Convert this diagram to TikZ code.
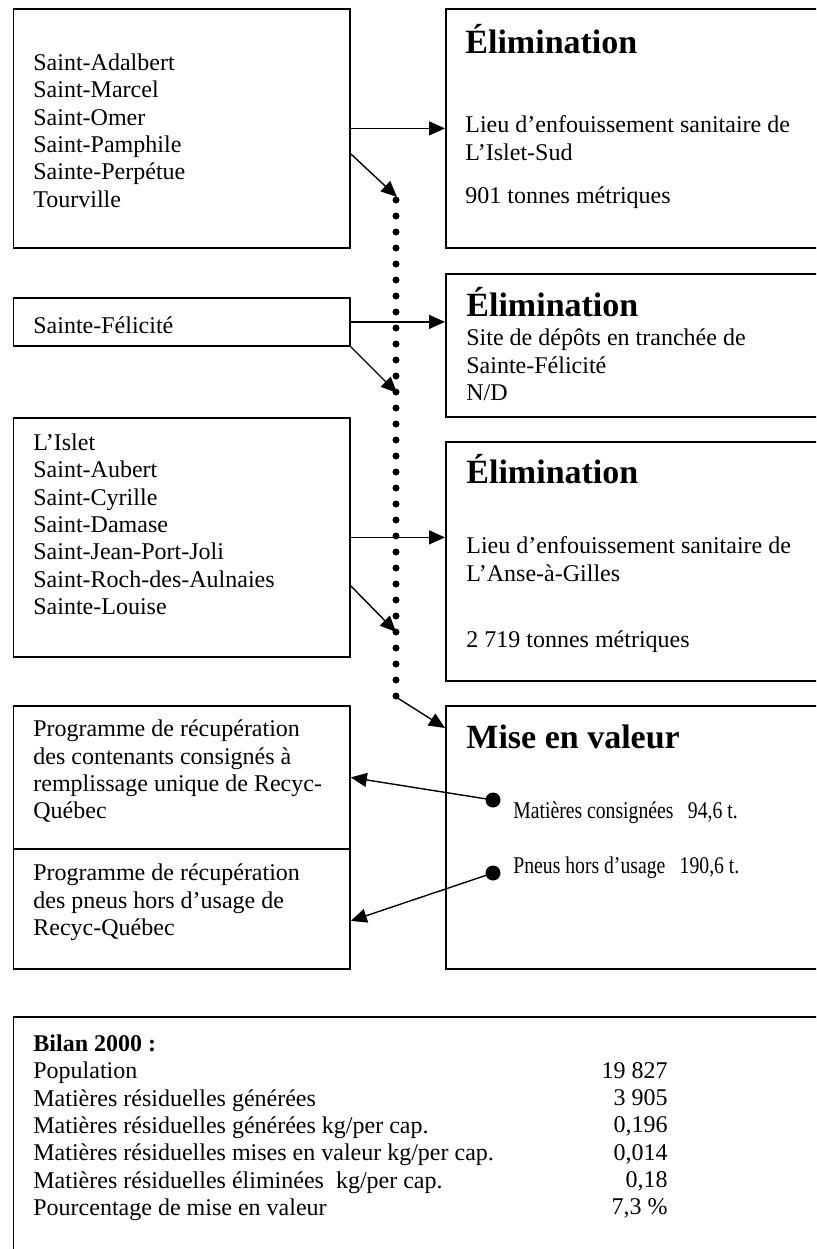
\documentclass[tikz,border=0pt]{standalone}
\usepackage{fontspec}
\setmainfont{Liberation Serif}
\newfontfamily\narrowserif[FakeStretch=0.82]{Liberation Serif}
\usetikzlibrary{arrows.meta}

\begin{document}
\begin{tikzpicture}[x=0.5pt, y=-0.5pt, font=\fontsize{12}{13.65}\selectfont,
  box/.style={draw, line width=0.9pt, inner sep=0pt, anchor=north west},
  txt/.style={inner sep=0pt, anchor=north west, align=left},
  lbl/.style={inner sep=0pt, anchor=base west},
  tight/.style={lbl, font=\fontsize{12}{13.65}\narrowserif},
  head/.style={inner sep=0pt, anchor=base west, font=\fontsize{17}{20}\selectfont\bfseries},
  arr/.style={line width=0.7pt, -{Triangle[length=8pt,width=7pt]}},
  blob/.style={circle, fill, inner sep=0pt, minimum size=7.5pt}]
  \useasboundingbox (0,0) rectangle (816,1249);
  \clip (0,0) rectangle (816,1249);
  \fill[white] (0,0) rectangle (816,1249);
  % boxes on the left
  \node[box, minimum width=168.25pt, minimum height=119.5pt] (srcA) at (12.5,8) {};
  \node[box, minimum width=168.25pt, minimum height=24pt] (srcB) at (12.5,297) {};
  \node[box, minimum width=168.25pt, minimum height=119.5pt] (srcC) at (12.5,417) {};
  \node[box, minimum width=168.25pt, minimum height=71.5pt] (progA) at (12.5,705) {};
  \node[box, minimum width=168.25pt, minimum height=60pt] (progB) at (12.5,848) {};
  % boxes on the right
  \node[box, minimum width=200pt, minimum height=119.5pt] (elimA) at (445,8) {};
  \node[box, minimum width=200pt, minimum height=71.5pt] (elimB) at (445,273) {};
  \node[box, minimum width=200pt, minimum height=119.5pt] (elimC) at (445,441) {};
  \node[box, minimum width=200pt, minimum height=131.5pt] (valor) at (445,705) {};
  \node[box, minimum width=425pt, minimum height=130pt] (bilan) at (12.5,1016) {};
  % municipalities
  \node[txt] (munA) at (33,53.6) {Saint-Adalbert\\Saint-Marcel\\Saint-Omer\\Saint-Pamphile\\Sainte-Perpétue\\Tourville};
  \node[lbl] (munB) at (33,333) {Sainte-Félicité};
  \node[txt] (munC) at (33,433.6) {L’Islet\\Saint-Aubert\\Saint-Cyrille\\Saint-Damase\\Saint-Jean-Port-Joli\\Saint-Roch-des-Aulnaies\\Sainte-Louise};
  \node[txt] (txtP1) at (33,719.6) {Programme de récupération\\des contenants consignés à\\remplissage unique de Recyc-\\Québec};
  \node[txt] (txtP2) at (33,863.6) {Programme de récupération\\des pneus hors d’usage de\\Recyc-Québec};
  % sites
  \node[head] (hdA) at (465,53) {Élimination};
  \node[txt] (siteA) at (465,115.6) {Lieu d’enfouissement sanitaire de\\L’Islet-Sud};
  \node[lbl] (qtyA) at (465,203) {901 tonnes métriques};
  \node[head] (hdB) at (466,316) {Élimination};
  \node[txt] (siteB) at (466,328.6) {Site de dépôts en tranchée de\\Sainte-Félicité\\N/D};
  \node[head] (hdC) at (466,483) {Élimination};
  \node[txt] (siteC) at (466,536.6) {Lieu d’enfouissement sanitaire de\\L’Anse-à-Gilles};
  \node[lbl] (qtyC) at (466,647) {2 719 tonnes métriques};
  \node[head] (hdD) at (466,748) {Mise en valeur};
  \node[tight] (matA) at (513,818) {Matières consignées\hspace{0.6em}94,6 t.};
  \node[tight] (matB) at (513,873) {Pneus hors d’usage\hspace{0.6em}190,6 t.};
  \node[blob] (dotA) at (493,800) {};
  \node[blob] (dotB) at (493,873) {};
  % summary
  \node[txt] (bilanL) at (33,1034.6) {\textbf{Bilan 2000~:}\\Population\\Matières résiduelles générées\\Matières résiduelles générées kg/per cap.\\Matières résiduelles mises en valeur kg/per cap.\\Matières résiduelles éliminées~ kg/per cap.\\Pourcentage de mise en valeur};
  \node[txt, anchor=north east, align=right] (bilanR) at (668,1061.8) {19 827\\3 905\\0,196\\0,014\\0,18\\7,3 \%};
  % dotted line
  \coordinate (dtop) at (396,200);
  \coordinate (dbot) at (396,697);
  \coordinate (j1) at (397,197);
  \coordinate (j2) at (397,393);
  \coordinate (j3) at (396,632);
  \draw[line width=3.5pt, line cap=round, dash pattern=on 0pt off 8pt] (dtop) -- (dbot);
  % arrows
  \draw[arr] (srcA.east) -- (elimA.west);
  \draw[arr] ([yshift=-12.75pt]srcA.east) -- (j1);
  \draw[arr] (srcB.east) -- (srcB.east -| elimB.west);
  \draw[arr] (srcB.south east) -- (j2);
  \draw[arr] (srcC.east) -- (srcC.east -| elimC.west);
  \draw[arr] ([yshift=-24.25pt]srcC.east) -- (j3);
  \draw[arr] (dbot) -- ([yshift=-11.5pt]valor.north west);
  \draw[arr] (dotA.center) -- (progA.east);
  \draw[arr] (dotB.center) -- ([yshift=-6pt]progB.east);
\end{tikzpicture}
\end{document}
